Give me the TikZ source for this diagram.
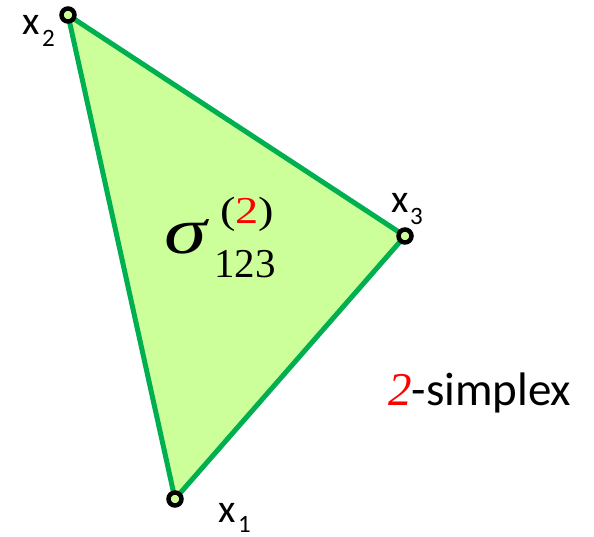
\documentclass[tikz,border=0pt]{standalone}
\usepackage{fontspec}
\setmainfont{Carlito}
\newfontfamily\tms{Liberation Serif}
\definecolor{edgegreen}{RGB}{0,176,80}
\definecolor{facegreen}{RGB}{204,255,153}
\definecolor{redtxt}{RGB}{255,0,0}
\begin{document}
\begin{tikzpicture}[x=1pt,y=-1pt,
  vtx/.style={circle,draw=black,line width=4.5pt,fill=facegreen,minimum size=13pt,inner sep=0pt},
  lbl/.style={anchor=base west,inner sep=0pt,font=\fontsize{40}{40}\selectfont},
  sub/.style={anchor=base west,inner sep=0pt,font=\fontsize{25}{25}\selectfont}]
\useasboundingbox (0,0) rectangle (594,537);
\coordinate (p1) at (175,499);
\coordinate (p2) at (68,15);
\coordinate (p3) at (405,236);
\filldraw[fill=facegreen,draw=edgegreen,line width=5pt,line join=round] (p1) -- (p2) -- (p3) -- cycle;
\node[vtx] (x1) at (p1) {};
\node[vtx] (x2) at (p2) {};
\node[vtx] (x3) at (p3) {};
% labels
\node[lbl] (l2) at (22,35) {x};
\node[sub] (s2) at (42,47) {2};
\node[lbl] (l3) at (391,213) {x};
\node[sub] (s3) at (410,225) {3};
\node[lbl] (l1) at (218,522) {x};
\node[sub] (s1) at (238,532) {1};
% sigma
\node[anchor=base west,inner sep=0pt,font=\tms\itshape\fontsize{66}{66}\selectfont] (sig) at (164,254) {\scalebox{1.3}[1]{σ}};
\node[anchor=base west,inner sep=0pt,font=\tms\fontsize{38}{38}\selectfont] (sup) at (220,224) {\scalebox{1.22}[1]{(\textcolor{redtxt}{2})}};
\node[anchor=base west,inner sep=0pt,font=\tms\fontsize{41}{41}\selectfont] (subs) at (214,277) {123};
% 2-simplex
\node[anchor=base west,inner sep=0pt,font=\fontsize{47}{47}\selectfont] (simp) at (388,405) {{\tms\itshape\textcolor{redtxt}{2}}-simplex};
\end{tikzpicture}
\end{document}
